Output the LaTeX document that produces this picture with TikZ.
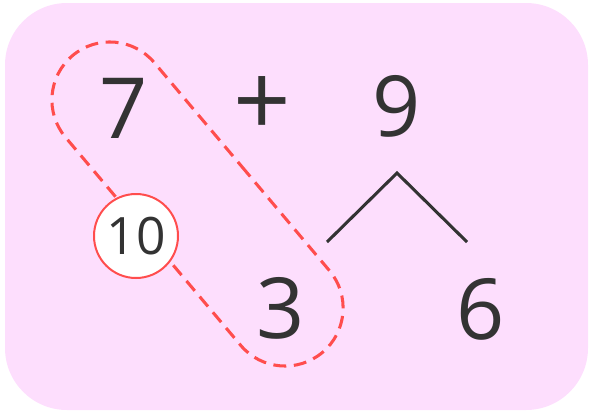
\documentclass[tikz,border=0pt]{standalone}
\usepackage{fontspec}
\setmainfont{Open Sans}
\usetikzlibrary{positioning, shapes.misc}
\definecolor{bgpink}{RGB}{253,222,253}
\definecolor{dashred}{RGB}{255,77,77}
\definecolor{ink}{RGB}{51,51,51}

\begin{document}
\begin{tikzpicture}[x=0.03cm, y=0.03cm]

\tikzset{
  num/.style={text=ink, font=\fontsize{72}{72}\selectfont, inner sep=0pt},
  ring/.style={circle, draw=dashred, fill=white, line width=1.7pt, minimum size=2.52cm, inner sep=0pt, text=ink, font=\fontsize{44}{44}\selectfont},
  capsule/.style={rounded rectangle, draw=dashred, dash pattern=on 11pt off 6.5pt, line width=2.6pt, minimum width=11.64cm, minimum height=3.48cm, inner sep=0pt},
  branch/.style={draw=ink, line width=2.6pt},
}

\useasboundingbox (0,0) rectangle (589,-412);
\fill[bgpink, rounded corners=1.86cm] (5,-3) rectangle (588,-410);

% grouping loop round 7 and 3
\node[capsule, rotate=-49.9] (pair) at (197.5,-204) {};

\node[num] (seven) at (124,-108) {7};
\node[num, font=\fontsize{86}{86}\selectfont] (plus) at (262,-107) {+};
\node[num] (nine) at (397,-106) {9};
\node[ring] (ten) at (136,-236) {10};
\node[num] (three) at (281,-308) {3};
\node[num] (six) at (481,-309) {6};

% split of 9
\coordinate (fork) at (397,-173);
\coordinate (leftend) at (327,-242);
\coordinate (rightend) at (467,-242);
\draw[branch] (leftend) -- (fork) -- (rightend);

\end{tikzpicture}
\end{document}
